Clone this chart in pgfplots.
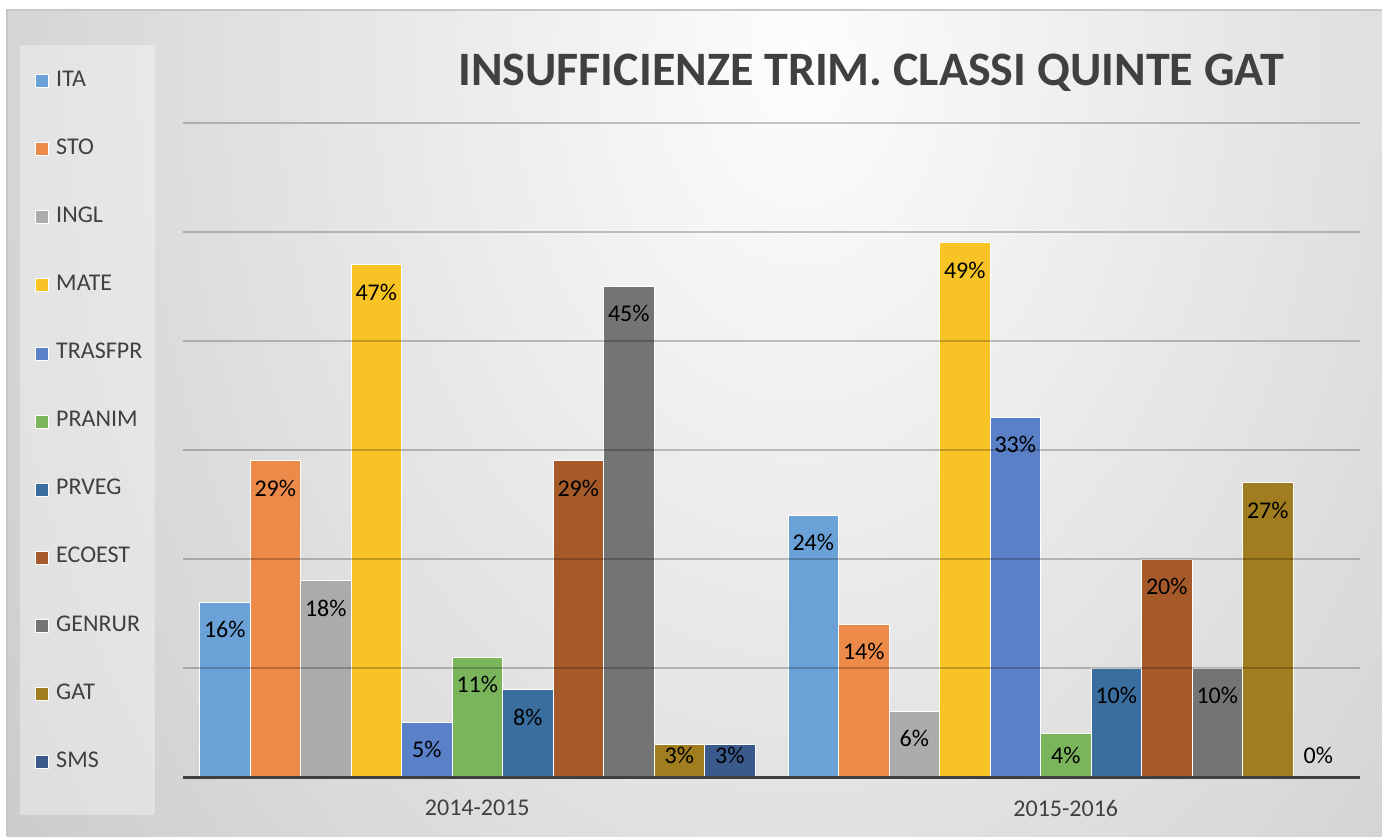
\documentclass[border=0pt]{standalone}
\usepackage{pgfplots}
\pgfplotsset{compat=1.18}
\usepackage{fontspec}
\setmainfont{Carlito}

\definecolor{txt}{HTML}{404040}
\definecolor{cITA}{HTML}{6AA2D8}
\definecolor{cSTO}{HTML}{EC8A4A}
\definecolor{cINGL}{HTML}{ABABAB}
\definecolor{cMATE}{HTML}{F8C324}
\definecolor{cTRAS}{HTML}{5A80C8}
\definecolor{cPRAN}{HTML}{7AB55C}
\definecolor{cPRVE}{HTML}{3A6E9E}
\definecolor{cECO}{HTML}{A65A2A}
\definecolor{cGEN}{HTML}{747474}
\definecolor{cGAT}{HTML}{A07D1E}
\definecolor{cSMS}{HTML}{3B5A8C}

\begin{document}
\begin{tikzpicture}[x=1pt,y=1pt]
\useasboundingbox (0,0) rectangle (691,418);
\fill[white] (0,0) rectangle (691,418);
% background of the chart area
\begin{scope}
  \clip (3.5,0) rectangle (691,413);
  \shade[inner color={rgb,255:red,253;green,253;blue,253}, outer color={rgb,255:red,194;green,194;blue,194}]
    (400,390) ellipse (580 and 820);
\end{scope}
\draw[black!22, line width=1pt] (3.5,0) -- (3.5,413) -- (691,413);
% legend panel
\fill[white, opacity=0.35] (10,10.5) rectangle (77.5,395.5);

\begin{axis}[
  at={(91.5pt,29.5pt)}, anchor=south west,
  scale only axis, width=588.5pt, height=327pt,
  ybar=0pt, bar width=25.25pt,
  xmin=-0.5, xmax=1.5, ymin=0, ymax=60,
  xtick={0,1}, xticklabels={2014-2015,2015-2016},
  ytick={0,10,...,60}, yticklabels={},
  axis x line*=bottom, axis y line*=left,
  y axis line style={draw=none},
  x axis line style={color=txt, line width=1.5pt, -},
  major tick length=0pt,
  ymajorgrids,
  major grid style={black, opacity=0.22, line width=0.8pt},
  axis on top,
  xticklabel style={font=\fontsize{12}{14}\selectfont, text=txt},
  tick label style={/pgf/number format/assume math mode=true},
  x tick label style={yshift=-8pt},
  point meta=y,
  visualization depends on={y \as \rawy},
  nodes near coords={\pgfmathprintnumber[fixed,precision=0,assume math mode=true]{\pgfplotspointmeta}\%},
  every node near coord/.append style={font=\fontsize{12}{14}\selectfont, text=black,
    anchor=center, yshift={(max(\rawy-2.5,2)-\rawy)*5.45pt}},
  legend cell align=left,
  legend image code/.code={\fill[#1] (0pt,-4.9pt) rectangle (6.5pt,1.6pt);},
  legend style={at={(-0.1257,1.0828)}, anchor=north west, draw=none, fill=none,
    inner sep=0pt, row sep=24.7pt, column sep=3.5pt,
    font=\fontsize{12}{14}\selectfont, text=txt,
    nodes={inner sep=0pt, text height=8.5pt, text depth=0pt}},
]
\addplot[fill=cITA, draw=white, line width=0.4pt] coordinates {(0,16) (1,24)};
\addlegendentry{ITA}
\addplot[fill=cSTO, draw=white, line width=0.4pt] coordinates {(0,29) (1,14)};
\addlegendentry{STO}
\addplot[fill=cINGL, draw=white, line width=0.4pt] coordinates {(0,18) (1,6)};
\addlegendentry{INGL}
\addplot[fill=cMATE, draw=white, line width=0.4pt] coordinates {(0,47) (1,49)};
\addlegendentry{MATE}
\addplot[fill=cTRAS, draw=white, line width=0.4pt] coordinates {(0,5) (1,33)};
\addlegendentry{TRASFPR}
\addplot[fill=cPRAN, draw=white, line width=0.4pt] coordinates {(0,11) (1,4)};
\addlegendentry{PRANIM}
\addplot[fill=cPRVE, draw=white, line width=0.4pt] coordinates {(0,8) (1,10)};
\addlegendentry{PRVEG}
\addplot[fill=cECO, draw=white, line width=0.4pt] coordinates {(0,29) (1,20)};
\addlegendentry{ECOEST}
\addplot[fill=cGEN, draw=white, line width=0.4pt] coordinates {(0,45) (1,10)};
\addlegendentry{GENRUR}
\addplot[fill=cGAT, draw=white, line width=0.4pt] coordinates {(0,3) (1,27)};
\addlegendentry{GAT}
\addplot[fill=cSMS, draw=white, line width=0.4pt] coordinates {(0,3) (1,0)};
\addlegendentry{SMS}
\end{axis}

\node[font=\fontsize{24}{28}\selectfont\bfseries, text=txt] at (435.5,381.5)
  {INSUFFICIENZE TRIM. CLASSI QUINTE GAT};
\end{tikzpicture}
\end{document}
